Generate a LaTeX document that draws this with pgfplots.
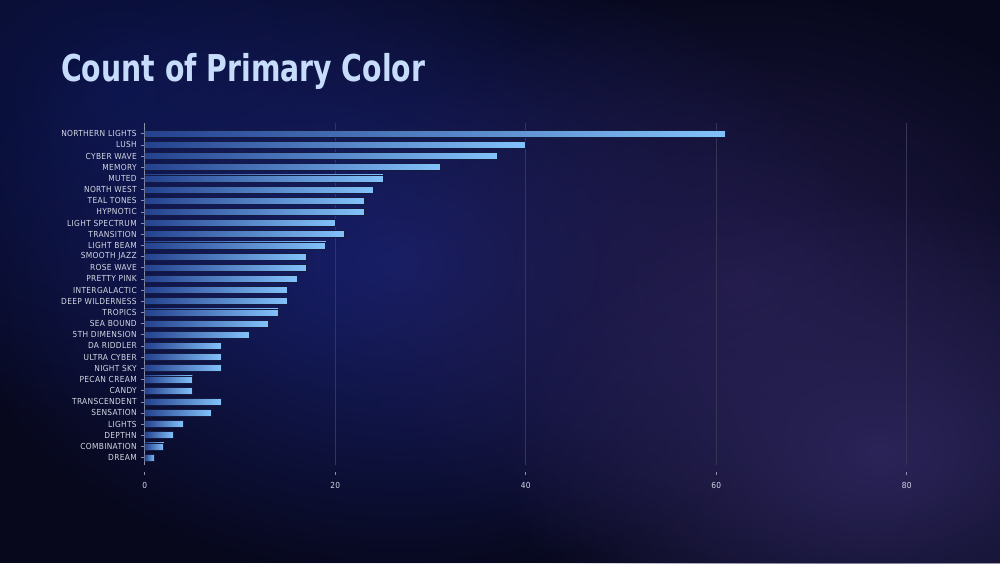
\documentclass[border=0pt]{standalone}
\usepackage{pgfplots}
\pgfplotsset{compat=1.18}
\usepackage{fontspec}
\usepackage{graphicx}
\setmainfont{DejaVu Sans Condensed}
\newfontfamily\titlefont{DejaVu Sans Condensed}
\newfontfamily\labelfont[LetterSpace=4]{DejaVu Sans Condensed}
\usetikzlibrary{fadings}
\definecolor{bgbase}{HTML}{07081C}
\definecolor{glowblue}{HTML}{18206C}
\definecolor{glowpurple}{HTML}{2A2458}
\definecolor{midpurple}{HTML}{221B4A}
\definecolor{navy}{HTML}{0C1448}
\definecolor{barL}{HTML}{24418E}
\definecolor{barR}{HTML}{82C2FA}
\definecolor{barEdge}{HTML}{141A40}
\definecolor{gridc}{HTML}{363556}
\definecolor{axisc}{HTML}{8A90A8}
\definecolor{labelc}{HTML}{D4D8E4}
\definecolor{titlec}{HTML}{C6DCFA}
\tikzfading[name=glow, inner color=transparent!0, outer color=transparent!100]
\pgfplotsset{mybar/.style={xbar, bar width=7pt, bar shift=0pt, left color=barL, right color=barR, draw=barEdge, line width=0.7pt, forget plot}}
\begin{document}
\begin{tikzpicture}[x=1pt,y=1pt]
\fill[bgbase] (0,0) rectangle (1000,563);
\begin{scope}
\clip (0,0) rectangle (1000,563);
\fill[navy, path fading=glow] (120,470) ellipse (420 and 330);
\fill[glowblue, path fading=glow] (400,300) ellipse (460 and 320);
\fill[midpurple, path fading=glow] (740,280) ellipse (420 and 300);
\fill[glowpurple, path fading=glow] (880,110) ellipse (380 and 260);
\end{scope}
\node[anchor=base west, inner sep=0pt, text=titlec, font=\titlefont\bfseries\fontsize{37}{40}\selectfont] at (61,481) {\scalebox{0.85}[1]{Count of Primary Color}};
\begin{axis}[
  at={(152,88)}, anchor=south west,
  scale only axis, width=762pt, height=341.5pt,
  xmin=0, xmax=80, ymin=-0.63, ymax=29.94,
  axis lines*=left,
  x axis line style={draw=none},
  y axis line style={draw=axisc, line width=0.8pt},
  xtick={0,20,40,60,80},
  ytick={0,...,29},
  yticklabels={DREAM,COMBINATION,DEPTHN,LIGHTS,SENSATION,TRANSCENDENT,CANDY,PECAN CREAM,NIGHT SKY,ULTRA CYBER,DA RIDDLER,5TH DIMENSION,SEA BOUND,TROPICS,DEEP WILDERNESS,INTERGALACTIC,PRETTY PINK,ROSE WAVE,SMOOTH JAZZ,LIGHT BEAM,TRANSITION,LIGHT SPECTRUM,HYPNOTIC,TEAL TONES,NORTH WEST,MUTED,MEMORY,CYBER WAVE,LUSH,NORTHERN LIGHTS},
  tick align=outside,
  major tick length=3.5pt,
  ytick style={draw=axisc, line width=0.6pt},
  xtick style={draw=axisc, line width=0.6pt, yshift=-7pt},
  xmajorgrids, major grid style={draw=gridc, line width=0.6pt},
  /pgf/number format/assume math mode=true,
  ticklabel style={font=\labelfont\fontsize{8.3}{9}\selectfont, text=labelc},
  yticklabel style={xshift=-1pt},
  xticklabel style={yshift=-11pt},
]
\addplot[mybar] coordinates {(1,0)};
\addplot[mybar] coordinates {(2,1)};
\addplot[mybar] coordinates {(3,2)};
\addplot[mybar] coordinates {(4,3)};
\addplot[mybar] coordinates {(7,4)};
\addplot[mybar] coordinates {(8,5)};
\addplot[mybar] coordinates {(5,6)};
\addplot[mybar] coordinates {(5,7)};
\addplot[mybar] coordinates {(8,8)};
\addplot[mybar] coordinates {(8,9)};
\addplot[mybar] coordinates {(8,10)};
\addplot[mybar] coordinates {(11,11)};
\addplot[mybar] coordinates {(13,12)};
\addplot[mybar] coordinates {(14,13)};
\addplot[mybar] coordinates {(15,14)};
\addplot[mybar] coordinates {(15,15)};
\addplot[mybar] coordinates {(16,16)};
\addplot[mybar] coordinates {(17,17)};
\addplot[mybar] coordinates {(17,18)};
\addplot[mybar] coordinates {(19,19)};
\addplot[mybar] coordinates {(21,20)};
\addplot[mybar] coordinates {(20,21)};
\addplot[mybar] coordinates {(23,22)};
\addplot[mybar] coordinates {(23,23)};
\addplot[mybar] coordinates {(24,24)};
\addplot[mybar] coordinates {(25,25)};
\addplot[mybar] coordinates {(31,26)};
\addplot[mybar] coordinates {(37,27)};
\addplot[mybar] coordinates {(40,28)};
\addplot[mybar] coordinates {(61,29)};
\end{axis}
\pgfresetboundingbox
\useasboundingbox (0,0) rectangle (1000,563);
\end{tikzpicture}
\end{document}
